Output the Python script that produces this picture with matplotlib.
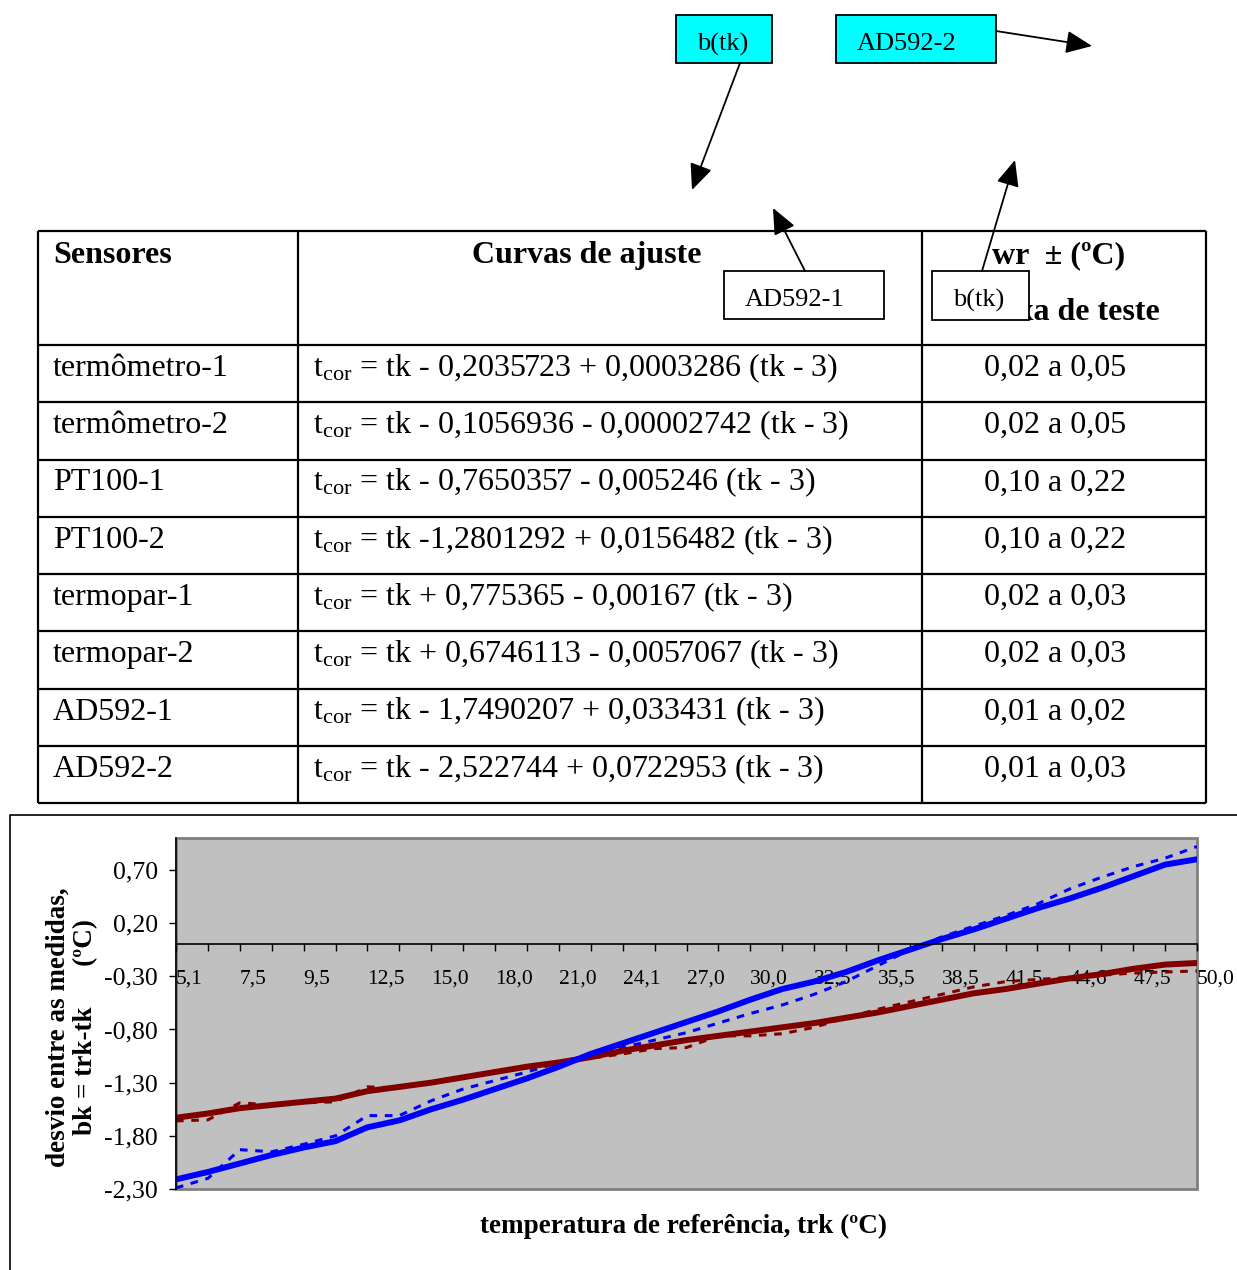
import numpy as np
import matplotlib
matplotlib.use("Agg")
import matplotlib.pyplot as plt
from matplotlib.patches import Rectangle

plt.rcParams['font.family'] = ['Liberation Serif', 'DejaVu Serif']
plt.rcParams['mathtext.fontset'] = 'custom'
plt.rcParams['mathtext.rm'] = 'Liberation Serif'
plt.rcParams['mathtext.it'] = 'Liberation Serif:italic'
plt.rcParams['mathtext.bf'] = 'Liberation Serif:bold'

# table contents
cabecalho = ['Sensores', 'Curvas de ajuste', 'wr  ± (ºC)', 'Faixa de teste']
sensores = ['termômetro-1', 'termômetro-2', 'PT100-1', 'PT100-2',
            'termopar-1', 'termopar-2', 'AD592-1', 'AD592-2']
curvas = ['tk - 0,2035723 + 0,0003286 (tk - 3)',
          'tk - 0,1056936 - 0,00002742 (tk - 3)',
          'tk - 0,7650357 - 0,005246 (tk - 3)',
          'tk -1,2801292 + 0,0156482 (tk - 3)',
          'tk + 0,775365 - 0,00167 (tk - 3)',
          'tk + 0,6746113 - 0,0057067 (tk - 3)',
          'tk - 1,7490207 + 0,033431 (tk - 3)',
          'tk - 2,522744 + 0,0722953 (tk - 3)']
faixas = ['0,02 a 0,05', '0,02 a 0,05', '0,10 a 0,22', '0,10 a 0,22',
          '0,02 a 0,03', '0,02 a 0,03', '0,01 a 0,02', '0,01 a 0,03']

# chart data: reference temperature categories (every other one labelled)
categorias = ['5,1', '6,3', '7,5', '8,5', '9,5', '11,0', '12,5', '13,5', '15,0',
              '16,5', '18,0', '19,5', '21,0', '22,5', '24,1', '25,5', '27,0',
              '28,5', '30,0', '31,0', '32,5', '34,0', '35,5', '37,0', '38,5',
              '40,0', '41,5', '43,0', '44,6', '46,0', '47,5', '49,0', '50,0']
bk_ad592_2 = [-2.29, -2.20, -1.93, -1.95, -1.88, -1.80, -1.61, -1.61, -1.47,
              -1.36, -1.28, -1.20, -1.11, -1.04, -0.97, -0.90, -0.83, -0.74,
              -0.65, -0.57, -0.47, -0.35, -0.20, -0.05, 0.07, 0.17, 0.27,
              0.38, 0.52, 0.63, 0.73, 0.81, 0.92]
fit_ad592_2 = [-2.21, -2.14, -2.06, -1.98, -1.91, -1.85, -1.72, -1.655, -1.55,
               -1.46, -1.36, -1.26, -1.15, -1.03, -0.93, -0.83, -0.73, -0.63,
               -0.52, -0.42, -0.35, -0.26, -0.15, -0.05, 0.05, 0.14, 0.24,
               0.34, 0.43, 0.53, 0.64, 0.75, 0.80]
bk_ad592_1 = [-1.66, -1.65, -1.49, -1.51, -1.49, -1.48, -1.34, -1.35, -1.30,
              -1.25, -1.20, -1.15, -1.11, -1.07, -1.03, -0.98, -0.97, -0.86,
              -0.86, -0.84, -0.78, -0.69, -0.61, -0.54, -0.47, -0.40, -0.35,
              -0.33, -0.31, -0.29, -0.27, -0.26, -0.25]
fit_ad592_1 = [-1.63, -1.59, -1.54, -1.51, -1.48, -1.45, -1.38, -1.34, -1.30,
               -1.25, -1.20, -1.15, -1.11, -1.06, -1.00, -0.95, -0.90, -0.86,
               -0.82, -0.78, -0.74, -0.69, -0.64, -0.58, -0.52, -0.46, -0.42,
               -0.37, -0.32, -0.28, -0.23, -0.19, -0.175]
yticks = [-2.3, -1.8, -1.3, -0.8, -0.3, 0.2, 0.7]

W, H = 1237, 1270
fig = plt.figure(figsize=(W / 100, H / 100), dpi=100)

# page layer in pixel coordinates
bg = fig.add_axes([0, 0, 1, 1])
bg.set_xlim(0, W)
bg.set_ylim(H, 0)
bg.axis('off')

# table grid
col_x = [38, 298, 922, 1206]
row_y = [231] + [345 + 57.25 * k for k in range(9)]
bg.hlines(row_y, col_x[0], col_x[-1], color='black', lw=1.6)
bg.vlines(col_x, row_y[0], row_y[-1], color='black', lw=1.6)

fs = 23
bg.text(53, 263, cabecalho[0], fontsize=fs, fontweight='bold', va='baseline')
bg.text(587, 263, cabecalho[1], fontsize=fs, fontweight='bold', va='baseline', ha='center')
bg.text(1059, 263, cabecalho[2], fontsize=fs, fontweight='bold', va='baseline', ha='center')
bg.text(1066, 320, cabecalho[3], fontsize=fs, fontweight='bold', va='baseline', ha='center')

for k in range(len(sensores)):
    yb = row_y[k + 1] + 31
    bg.text(53, yb, sensores[k], fontsize=fs, va='baseline')
    bg.text(313, yb, r'$\mathrm{t_{cor}}$ = ' + curvas[k], fontsize=fs, va='baseline')
    bg.text(1055, yb, faixas[k], fontsize=fs, va='baseline', ha='center')

# callout boxes with arrows
arrow_kw = dict(arrowstyle='-|>,head_length=0.8,head_width=0.35', mutation_scale=20,
                color='black', lw=1.3, shrinkA=0, shrinkB=0)
caixas = [((676, 15, 96, 48), 'b(tk)', '#00FFFF', (740, 63), (692, 190)),
          ((836, 15, 160, 48), 'AD592-2', '#00FFFF', (996, 31), (1092, 46)),
          ((724, 271, 160, 48), 'AD592-1', 'white', (805, 271), (773, 208)),
          ((932, 271, 97, 49), 'b(tk)', 'white', (982, 271), (1015, 160))]
for (x0, y0, w, h), txt, fc, start, end in caixas:
    bg.annotate('', xy=end, xytext=start, arrowprops=arrow_kw, zorder=5)
    bg.add_patch(Rectangle((x0, y0), w, h, fc=fc, ec='black', lw=1.3, zorder=4))
    bg.text(x0 + 21, y0 + h / 2 + 5, txt, fontsize=19, va='center', zorder=6)

# chart frame
bg.plot([10, 10, W], [H, 815, 815], color='black', lw=1.2)
bg.text(72, 1027, 'desvio entre as medidas,\nbk = trk-tk      (ºC)', rotation=90,
        ha='center', va='center', multialignment='center', fontsize=19.5,
        fontweight='bold', linespacing=1.15)
bg.text(683, 1226, 'temperatura de referência, trk (ºC)', ha='center', va='center',
        fontsize=19.5, fontweight='bold')

# chart
ax = fig.add_axes([176 / W, (H - 1189) / H, 1021 / W, 351 / H])
ax.set_facecolor('#C0C0C0')
x = np.arange(len(categorias))
ax.plot(x, bk_ad592_1, color='#800000', lw=2.2, dashes=(2.5, 2.5))
ax.plot(x, bk_ad592_2, color='#0000FF', lw=2.2, dashes=(2.5, 2.5))
ax.plot(x, fit_ad592_1, color='#800000', lw=4.3)
ax.plot(x, fit_ad592_2, color='#0000FF', lw=4.3)
ax.set_xlim(0, len(categorias) - 1)
ax.set_ylim(-2.3, 1.0)

ax.spines['bottom'].set_position(('data', 0))
ax.spines['bottom'].set_linewidth(1.2)
ax.spines['left'].set_linewidth(1.2)
for s in ['top', 'right']:
    ax.spines[s].set_visible(False)
ax.add_patch(Rectangle((0, 0), 1, 1, transform=ax.transAxes, fill=False,
                       ec='#808080', lw=2, clip_on=False, zorder=0.5))

ax.set_xticks(x[::2])
ax.set_xticklabels(categorias[::2], ha='left')
ax.set_xticks(x[1::2], minor=True)
ax.tick_params(axis='x', which='both', direction='out', length=5, width=1,
               pad=13, labelsize=15.5)
ax.set_yticks(yticks)
ax.set_yticklabels([f'{v:.2f}'.replace('.', ',') for v in yticks])
ax.tick_params(axis='y', direction='out', length=5, width=1, pad=8, labelsize=18.5)

fig.savefig('out.png', dpi=100)
